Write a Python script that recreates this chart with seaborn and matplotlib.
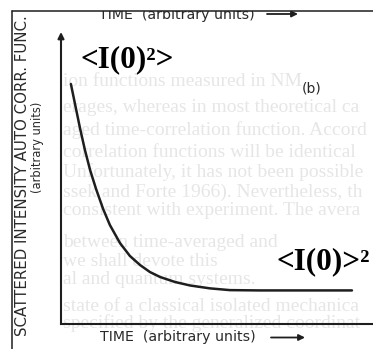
import matplotlib
matplotlib.use("Agg")
import matplotlib.pyplot as plt
from matplotlib.patches import Rectangle
from matplotlib.lines import Line2D
import pandas as pd
import seaborn as sns

# Intensity autocorrelation sampled along the decay curve (arbitrary units)
time = [0.38, 0.54, 0.73, 0.92, 1.12, 1.35, 1.62, 1.88, 2.27, 2.65,
        3.04, 3.42, 3.81, 4.38, 4.96, 5.73, 6.50, 7.65, 9.19, 11.19]
corr = [8.22, 7.53, 6.71, 5.96, 5.27, 4.62, 3.94, 3.39, 2.77, 2.33,
        2.02, 1.78, 1.61, 1.44, 1.32, 1.22, 1.16, 1.15, 1.15, 1.15]

x_label = "TIME  (arbitrary units)"
y_label = "SCATTERED INTENSITY AUTO CORR. FUNC."
y_units = "(arbitrary units)"
start_label = "<I(0)²>"
limit_label = "<I(0)>²"
panel_label = "(b)"

# faint print showing through the page
page_lines = [
    "ion functions measured in NM",
    "erages, whereas in most theoretical ca",
    "aged time-correlation function. Accord",
    "correlation functions will be identical",
    "Unfortunately, it has not been possible",
    "ssek and Forte 1966). Nevertheless, th",
    "consistent with experiment. The avera",
    "between time-averaged and",
    "we shall devote this",
    "al and quantum systems.",
    "state of a classical isolated mechanica",
    "specified by the generalized coordinat",
]
page_baselines = [86, 112, 135, 157, 177, 197, 215, 247, 266, 284, 311, 328]

W, H = 373, 349
sns.set_theme(style="white")
plt.rcParams["font.family"] = ["DejaVu Sans"]

fig = plt.figure(figsize=(W / 100, H / 100), dpi=100)
fig.patch.set_facecolor("white")


def fx(px):
    return px / W


def fy(py):
    return 1 - py / H


INK = "#1e1e1e"
TEXT = "#2a2a2a"

for line, yb in zip(page_lines, page_baselines):
    fig.text(fx(63), fy(yb), line, fontfamily="Liberation Serif", fontsize=14,
             color="#e6e6e6", va="baseline", zorder=-1)

ax = fig.add_axes([fx(61), fy(324), fx(373) - fx(61), fy(32) - fy(324)])
ax.patch.set_alpha(0)

df = pd.DataFrame({"time": time, "corr": corr})
sns.lineplot(data=df, x="time", y="corr", ax=ax, sort=False, estimator=None,
             color=INK, linewidth=1.8)
for ln in ax.lines:
    ln.set_clip_on(False)

ax.set_xlim(0, 12)
ax.set_ylim(0, 10)
ax.set_xticks([])
ax.set_yticks([])
ax.set_xlabel("")
ax.set_ylabel("")
for side in ["top", "right", "left"]:
    ax.spines[side].set_visible(False)
ax.spines["bottom"].set_color(INK)
ax.spines["bottom"].set_linewidth(1.5)

# vertical axis with arrowhead
ax.annotate("", xy=(0, 1), xytext=(0, 0), xycoords="axes fraction",
            arrowprops=dict(arrowstyle="-|>", color=INK, lw=1.5,
                            mutation_scale=9, shrinkA=0, shrinkB=0),
            annotation_clip=False)

# labels
fig.text(fx(80), fy(67), start_label, fontfamily="Liberation Serif",
         fontweight="bold", fontsize=22.5, color="black", va="baseline")
fig.text(fx(277), fy(269), limit_label, fontfamily="Liberation Serif",
         fontweight="bold", fontsize=22.5, color="black", va="baseline")
fig.text(fx(312), fy(88), panel_label, fontsize=10, color=TEXT,
         ha="center", va="center")

fig.text(fx(27.5), fy(176), y_label, rotation=90, rotation_mode="anchor",
         ha="center", va="baseline", fontsize=10.8, color=TEXT)
fig.text(fx(41), fy(147), y_units, rotation=90, rotation_mode="anchor",
         ha="center", va="baseline", fontsize=8.3, color=TEXT)

fig.text(fx(100), fy(341.5), x_label, fontsize=10.2, color=TEXT, va="baseline")
ax.annotate("", xy=(fx(305), fy(337.5)), xytext=(fx(271), fy(337.5)),
            xycoords="figure fraction",
            arrowprops=dict(arrowstyle="-|>", color=INK, lw=1.3,
                            mutation_scale=9, shrinkA=0, shrinkB=0),
            annotation_clip=False)

# caption of the panel above, cut off by the frame
fig.text(fx(99), fy(18.5), x_label, fontsize=10.2, color=TEXT, va="baseline")
ax.annotate("", xy=(fx(298), fy(14)), xytext=(fx(267), fy(14)),
            xycoords="figure fraction",
            arrowprops=dict(arrowstyle="-|>", color=INK, lw=1.3,
                            mutation_scale=9, shrinkA=0, shrinkB=0),
            annotation_clip=False)
fig.add_artist(Rectangle((0, fy(11)), 1, 1 - fy(11), transform=fig.transFigure,
                         facecolor="white", edgecolor="none", zorder=10))
fig.add_artist(Rectangle((0, 0), fx(12), 1, transform=fig.transFigure,
                         facecolor="white", edgecolor="none", zorder=10))

# frame
fig.add_artist(Line2D([fx(12), 1], [fy(11), fy(11)], color=INK, lw=1.1, zorder=11))
fig.add_artist(Line2D([fx(12), fx(12)], [fy(11), 0], color=INK, lw=1.1, zorder=11))

fig.savefig("out.png", dpi=100, facecolor="white")
